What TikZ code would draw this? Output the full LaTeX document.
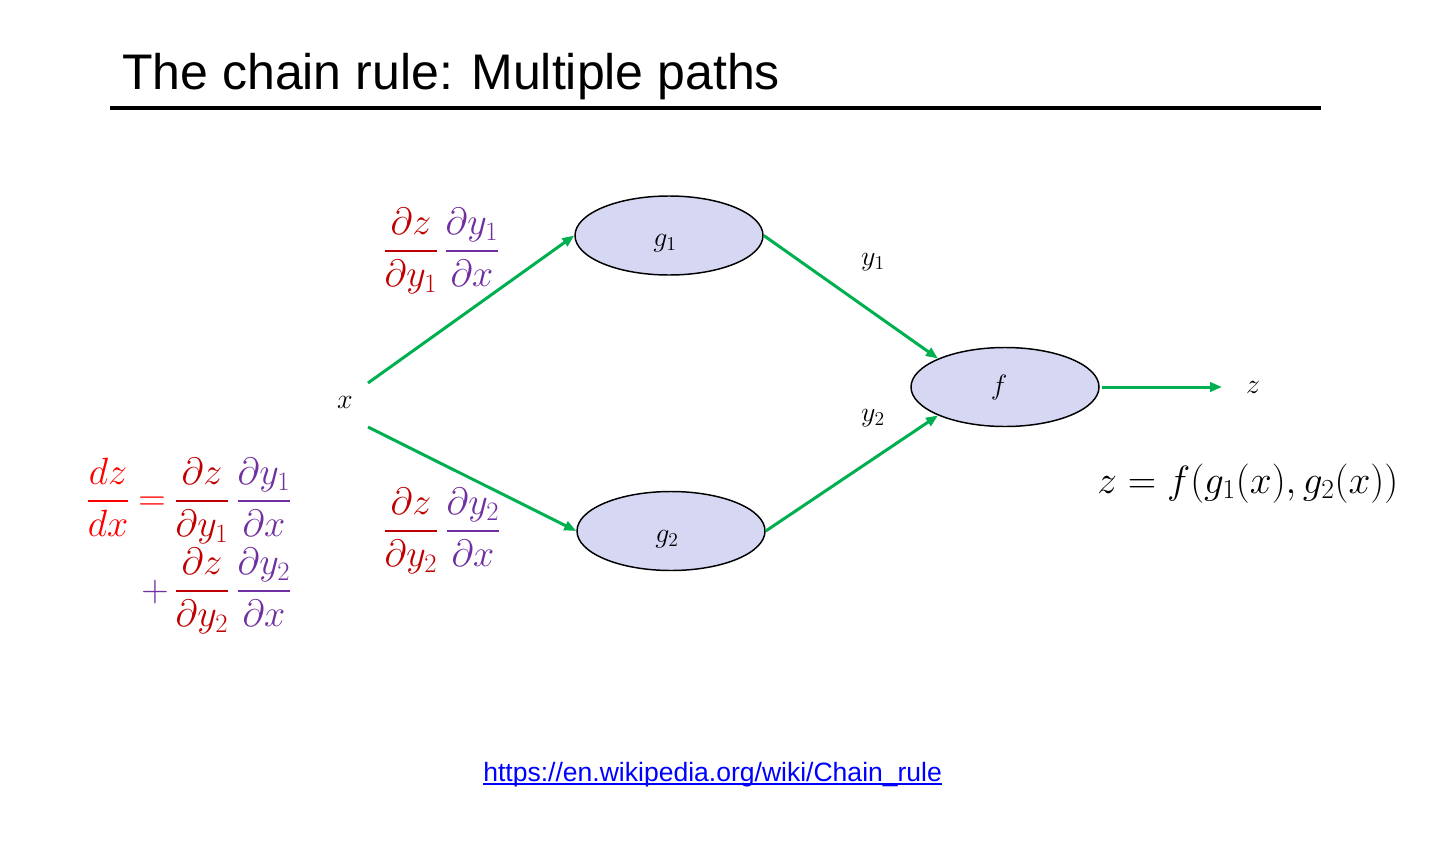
\RequirePackage{fix-cm}
\documentclass[tikz,border=0pt]{standalone}
\usepackage{amsmath}
\usepackage{fontspec}
\newfontfamily\arial{Liberation Sans}
\usetikzlibrary{shapes.geometric,arrows.meta}
\definecolor{grn}{RGB}{0,176,80}
\definecolor{lav}{RGB}{214,216,243}
\definecolor{dred}{RGB}{192,0,0}
\definecolor{purp}{RGB}{112,48,160}
\definecolor{urlblue}{RGB}{0,0,255}
\newcommand\pxfont[1]{\fontsize{#1}{#1}\selectfont}
\newcommand\tfr[2]{\genfrac{}{}{1.5pt}{0}{#1}{#2}}
\tikzset{
  fn/.style={ellipse, draw, line width=1.1pt, fill=lav, minimum width=141pt, minimum height=59.25pt, inner sep=0pt},
  arr/.style={draw=grn, line width=2.25pt, -{Triangle[length=9pt,width=7pt]}},
  lbl/.style={inner sep=0pt, anchor=base, font=\pxfont{21}},
  frac/.style={inner sep=0pt, anchor=base, font=\pxfont{28.5}}
}
\begin{document}
\begin{tikzpicture}[x=0.75pt,y=-0.75pt]
\useasboundingbox (0,0) rectangle (1455,860);
% title
\node[anchor=base west, inner sep=0pt, font=\arial\pxfont{37.5}] (title) at (122,89) {The chain rule: Multiple paths};
\coordinate (rl) at (110,108);
\coordinate (rr) at (1321,108);
\draw[line width=3pt] (rl) -- (rr);
% function nodes
\node[fn] (g1) at (669,235.5) {};
\node[fn] (g2) at (671,531) {};
\node[fn] (f) at (1005,387) {};
\node[lbl] (g1l) at (665,246) {$g_1$};
\node[lbl] (g2l) at (667,542) {$g_2$};
\node[lbl] (fl) at (999,394) {$f$};
% labels
\node[lbl] (x) at (345,408) {$x$};
\node[lbl] (y1) at (873,265) {$y_1$};
\node[lbl] (y2) at (873,421) {$y_2$};
\node[lbl] (z) at (1253,393) {$z$};
% connectors
\coordinate (xa) at (368,383);
\coordinate (xb) at (368,427);
\coordinate (zend) at (1222,387);
\draw[arr] (xa) -- (g1.west);
\draw[arr] (xb) -- (g2.west);
\draw[arr] (g1.east) -- (f.157);
\draw[arr] (g2.east) -- (f.203);
\draw[arr, shorten <=2pt] (f.east) -- (zend);
% path fractions
\node[frac, text=dred] (p1a) at (411,260.5) {$\tfr{\partial z}{\partial y_1}$};
\node[frac, text=purp] (p1b) at (472,260.5) {$\tfr{\partial y_1}{\partial x}$};
\node[frac, text=dred] (p2a) at (411,540.5) {$\tfr{\partial z}{\partial y_2}$};
\node[frac, text=purp] (p2b) at (473,540.5) {$\tfr{\partial y_2}{\partial x}$};
% left total derivative
\node[frac, text=red] (dzdx) at (108,510.5) {$\tfr{dz}{dx}$};
\node[frac, text=red] (eq) at (152,510.5) {$=$};
\node[frac, text=dred] (l1a) at (202,510.5) {$\tfr{\partial z}{\partial y_1}$};
\node[frac, text=purp] (l1b) at (264,510.5) {$\tfr{\partial y_1}{\partial x}$};
\node[frac, text=purp] (plus) at (155,601) {$+$};
\node[frac, text=dred] (l2a) at (202,600.5) {$\tfr{\partial z}{\partial y_2}$};
\node[frac, text=purp] (l2b) at (264,600.5) {$\tfr{\partial y_2}{\partial x}$};
% composite
\node[inner sep=0pt, anchor=base west, font=\pxfont{29.5}] (comp) at (1097,493) {$z=f(g_1(x),g_2(x))$};
% url
\node[anchor=base west, inner sep=0pt, font=\arial\pxfont{19.9}, text=urlblue] (url) at (483,781) {https://en.wikipedia.org/wiki/Chain\_rule};
\draw[urlblue, line width=1.1pt] ([yshift=-2.2pt]url.base west) -- ([yshift=-2.2pt]url.base east);
\end{tikzpicture}
\end{document}
